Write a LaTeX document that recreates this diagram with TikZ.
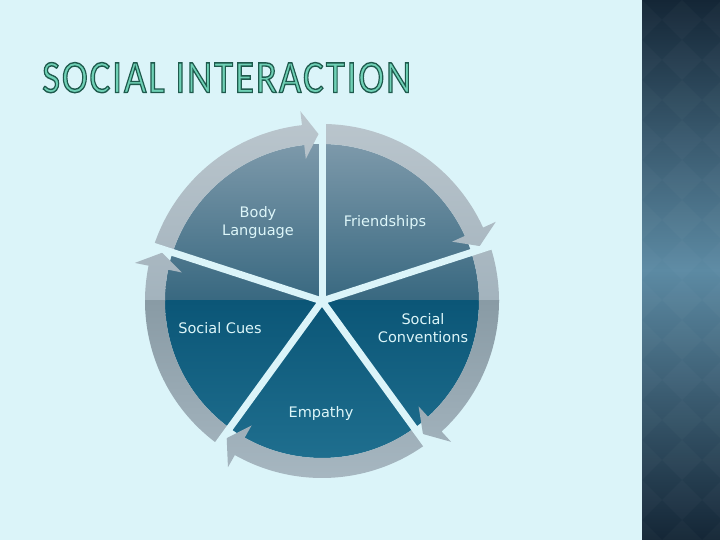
\documentclass[tikz,border=0pt]{standalone}
\usepackage{fontspec}
\setmainfont{DejaVu Sans}
\newfontfamily\titlefont[LetterSpace=5]{Carlito}
\definecolor{bg}{HTML}{DBF4F9}
\definecolor{panelTop}{HTML}{142636}
\definecolor{panelMid}{HTML}{5C8AA3}
\definecolor{pieTop}{HTML}{7E9AAB}
\definecolor{pieMid}{HTML}{386880}
\definecolor{pieLowA}{HTML}{0B5677}
\definecolor{pieLowB}{HTML}{1F6F8F}
\definecolor{ringTop}{HTML}{BCC7CE}
\definecolor{ringMid}{HTML}{A3B3BD}
\definecolor{ringLowA}{HTML}{899BA5}
\definecolor{ringLowB}{HTML}{AABAC4}
\definecolor{titleFill}{HTML}{6FD1B6}
\definecolor{labelText}{HTML}{DDF6F9}
\newcommand\outlinedtext[1]{\textcolor{titleFill}{\special{pdf:literal direct 2 Tr 0.3 w 0.118 0.353 0.302 RG}#1\special{pdf:literal direct 0 Tr}}}
\newcommand\ringarrow[1]{%
  ({#1+72}:177) arc[start angle={#1+72}, end angle={#1+6.5}, radius=177]
  -- ({#1+6.5}:191) -- ({#1+1.2}:167) -- ({#1+6.5}:143) -- ({#1+6.5}:157)
  arc[start angle={#1+6.5}, end angle={#1+72}, radius=157] -- cycle }
\begin{document}
\begin{tikzpicture}[x=1pt,y=1pt,
  lbl/.style={text=labelText, font=\fontsize{14.5}{18}\selectfont, align=center, inner sep=0pt},
  sep/.style={draw=bg, line width=7pt}]
\useasboundingbox (0,0) rectangle (720,540);
\fill[bg] (0,0) rectangle (720,540);
% right panel
\shade[top color=panelTop, bottom color=panelTop, middle color=panelMid] (642,0) rectangle (720,540);
\begin{scope}
  \clip (642,0) rectangle (720,540);
  \foreach \i in {0,1,2} \foreach \j in {0,...,14} {
    \fill[white, fill opacity=0.025] ({642+40*\i},{40*\j+20}) -- ++(20,-20) -- ++(-20,-20) -- ++(-20,20) -- cycle;
  }
\end{scope}
% title
\node[anchor=south west, inner sep=0pt] (title) at (42,447)
  {\resizebox{369pt}{30pt}{\titlefont\outlinedtext{SOCIAL INTERACTION}}};
\begin{scope}[shift={(322,239)}]
  \coordinate (c) at (0,0);
  % pie
  \begin{scope}
    \clip (0,0) circle (157);
    \shade[top color=pieTop, bottom color=pieMid] (-160,0) rectangle (160,160);
    \shade[top color=pieLowA, bottom color=pieLowB] (-160,-160) rectangle (160,0);
  \end{scope}
  % ring arrows
  \begin{scope}
    \clip \ringarrow{90} \ringarrow{18} \ringarrow{-54} \ringarrow{-126} \ringarrow{162};
    \shade[top color=ringTop, bottom color=ringMid] (-200,0) rectangle (200,200);
    \shade[top color=ringLowA, bottom color=ringLowB] (-200,-200) rectangle (200,0);
  \end{scope}
  % separators
  \foreach \a/\n in {90/s1,18/s2,-54/s3,-126/s4,162/s5} {
    \coordinate (\n) at (\a:196);
    \draw[sep] (c) -- (\n);
  }
  % labels
  \node[lbl] (body) at (-64,78) {Body\\Language};
  \node[lbl] (friend) at (63,78) {Friendships};
  \node[lbl] (conv) at (101,-27) {Social\\Conventions};
  \node[lbl] (empathy) at (-1,-113) {Empathy};
  \node[lbl] (cues) at (-102,-27) {Social Cues};
\end{scope}
\end{tikzpicture}
\end{document}
